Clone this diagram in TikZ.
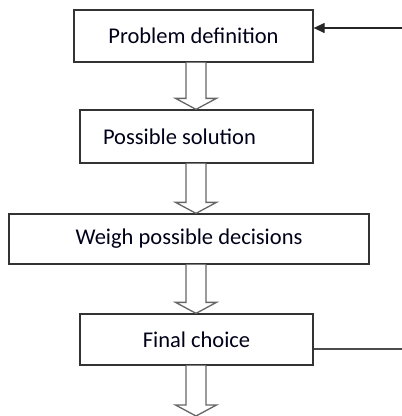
\documentclass[tikz,border=0pt]{standalone}
\usepackage{fontspec}
\setmainfont{Carlito}
\usetikzlibrary{calc,arrows.meta}
\begin{document}
\begin{tikzpicture}[x=1pt,y=-1pt,
  box/.style={draw=black!80,line width=1.3pt,minimum height=52pt,inner sep=0pt,
    font=\fontsize{22.5}{26}\selectfont,text=black!90!blue},
  hollow/.style={draw=black!60,line width=1.3pt,fill=white,line join=miter}]
\useasboundingbox (0,0) rectangle (402,416);
\coordinate (ax) at (196,0);
\node[box,minimum width=239pt] (b1) at (193.5,36) {Problem definition};
\node[box,minimum width=233pt,minimum height=53pt] (b2) at (196.5,136.5) {Possible solution\kern34pt\relax};
\node[box,minimum width=360pt,minimum height=50pt] (b3) at (189,239) {Weigh possible decisions};
\node[box,minimum width=233pt,minimum height=51pt] (b4) at (196.5,339.5) {Final choice};
\coordinate (endpt) at (196,416);
\coordinate (inR) at (402,28);
\coordinate (outR) at (402,349);
% hollow arrows
\foreach \a/\b in {b1/b2,b2/b3,b3/b4}{
  \draw[hollow] ($(\a.south -| ax)+(-10,0)$) -- ($(\b.north -| ax)+(-10,-11)$)
    -- ($(\b.north -| ax)+(-20.5,-11)$) -- (\b.north -| ax)
    -- ($(\b.north -| ax)+(20.5,-11)$) -- ($(\b.north -| ax)+(10,-11)$)
    -- ($(\a.south -| ax)+(10,0)$);
}
\draw[hollow] ($(b4.south -| ax)+(-10,0)$) -- ($(endpt)+(-10,-11)$)
    -- ($(endpt)+(-20.5,-11)$) -- (endpt)
    -- ($(endpt)+(20.5,-11)$) -- ($(endpt)+(10,-11)$)
    -- ($(b4.south -| ax)+(10,0)$);
% feedback lines
\draw[black!85,line width=1.3pt,-{Triangle[length=11pt,width=10pt]}] (inR) -- (inR -| b1.east);
\draw[black!70,line width=1.3pt] (outR -| b4.east) -- (outR);
\end{tikzpicture}
\end{document}
